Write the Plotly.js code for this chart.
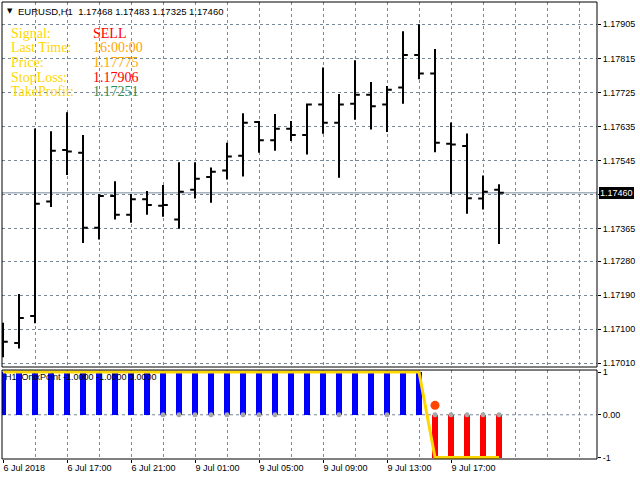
<!DOCTYPE html>
<html>
<head>
<meta charset="utf-8">
<script src="https://cdn.plot.ly/plotly-3.0.1.min.js"></script>
<style>
  html, body { margin: 0; padding: 0; background: #fff; }
  #chart { width: 640px; height: 480px; }
</style>
</head>
<body>
<div id="chart"></div>
<script>
// EURUSD H1, 6 Jul 13:00 .. 9 Jul 20:00 (weekend gap skipped)
var symbol = 'EURUSD,H1';
var opens  = [1.17100, 1.17064, 1.17135, 1.17437, 1.17573, 1.17566, 1.17368, 1.17452,
              1.17402, 1.17443, 1.17426, 1.17390, 1.17468, 1.17502, 1.17519, 1.17558,
              1.17647, 1.17599, 1.17629, 1.17613, 1.17693, 1.17645, 1.17695, 1.17719,
              1.17693, 1.17738, 1.17824, 1.17775, 1.17590, 1.17584, 1.17445, 1.17468];
var highs  = [1.17117, 1.17193, 1.17630, 1.17623, 1.17673, 1.17613, 1.17457, 1.17491,
              1.17457, 1.17465, 1.17481, 1.17541, 1.17541, 1.17527, 1.17592, 1.17670,
              1.17650, 1.17668, 1.17650, 1.17696, 1.17791, 1.17721, 1.17810, 1.17753,
              1.17742, 1.17887, 1.17905, 1.17840, 1.17646, 1.17617, 1.17506, 1.17483];
var lows   = [1.17026, 1.17049, 1.17116, 1.17423, 1.17507, 1.17328, 1.17337, 1.17390,
              1.17381, 1.17402, 1.17397, 1.17365, 1.17445, 1.17434, 1.17495, 1.17503,
              1.17566, 1.17571, 1.17597, 1.17561, 1.17616, 1.17500, 1.17653, 1.17627,
              1.17621, 1.17695, 1.17760, 1.17567, 1.17457, 1.17405, 1.17416, 1.17325];
var closes = [1.17067, 1.17130, 1.17431, 1.17571, 1.17569, 1.17368, 1.17452, 1.17402,
              1.17443, 1.17428, 1.17428, 1.17463, 1.17497, 1.17516, 1.17556, 1.17645,
              1.17599, 1.17629, 1.17613, 1.17693, 1.17645, 1.17693, 1.17719, 1.17689,
              1.17732, 1.17824, 1.17775, 1.17592, 1.17588, 1.17446, 1.17463, 1.17460];
var bid = 1.17460;

// OnixPoint indicator window
var histValues = [1, 1, 1, 1, 1, 1, 1, 1, 1, 1, 1, 1, 1, 1, 1, 1,
                  1, 1, 1, 1, 1, 1, 1, 1, 1, 1, 1, -1, -1, -1, -1, -1];
var trendLine  = [1, 1, 1, 1, 1, 1, 1, 1, 1, 1, 1, 1, 1, 1, 1, 1,
                  1, 1, 1, 1, 1, 1, 1, 1, 1, 1, 1, -1, -1, -1, -1, -1];
var dotBars = [10, 11, 12, 13, 14, 15, 16, 17, 21, 24, 27, 28, 29, 30, 31];
var signalBars = [27];
var signalValues = [0.22];

// axis labels
var priceTicks = [1.17905, 1.17815, 1.17725, 1.17635, 1.17545, 1.17455, 1.17365, 1.17280, 1.17190, 1.17100, 1.17010];
var priceLabels = ['1.17905', '1.17815', '1.17725', '1.17635', '1.17545', '', '1.17365', '1.17280', '1.17190', '1.17100', '1.17010'];
var timeTickBars = [0, 4, 8, 12, 16, 20, 24, 28];
var timeTickText = ['6 Jul 2018', '6 Jul 17:00', '6 Jul 21:00', '9 Jul 01:00', '9 Jul 05:00', '9 Jul 09:00', '9 Jul 13:00', '9 Jul 17:00'];
var gridBars = [2, 6, 10, 14, 18, 22, 26, 30, 32, 34, 36];

var infoLabels = ['Signal:', 'Last Time:', 'Price:', 'StopLoss:', 'TakeProfit:'];
var infoValues = ['SELL', '16:00:00', '1.17775', '1.17906', '1.17251'];
var infoColors = ['#ff0000', '#ffa500', '#ffa500', '#ff0000', '#2e8b57'];

var bars = opens.map(function (v, i) { return i; });
var gridColor = '#778899';

var ohlc = {
  type: 'ohlc',
  x: bars, open: opens, high: highs, low: lows, close: closes,
  xaxis: 'x', yaxis: 'y',
  increasing: {line: {color: '#000000', width: 2}},
  decreasing: {line: {color: '#000000', width: 2}},
  tickwidth: 0.3,
  hoverinfo: 'skip'
};

var hist = {
  type: 'bar',
  x: bars, y: histValues,
  xaxis: 'x', yaxis: 'y2',
  width: 0.42,
  marker: {color: histValues.map(function (v) { return v > 0 ? '#0000ff' : '#ff0000'; }), line: {width: 0}},
  hoverinfo: 'skip'
};

var line = {
  type: 'scatter', mode: 'lines',
  x: bars, y: trendLine,
  xaxis: 'x', yaxis: 'y2',
  line: {color: '#ffd700', width: 3},
  hoverinfo: 'skip'
};

var dots = {
  type: 'scatter', mode: 'markers',
  x: dotBars, y: dotBars.map(function () { return 0; }),
  xaxis: 'x', yaxis: 'y2',
  marker: {color: '#a9a9a9', size: 5},
  hoverinfo: 'skip'
};

var signal = {
  type: 'scatter', mode: 'markers',
  x: signalBars, y: signalValues,
  xaxis: 'x', yaxis: 'y2',
  marker: {color: '#ff4500', size: 9},
  hoverinfo: 'skip'
};

// text placed in pixels from the plot's top-left corner
function textAt(text, px, py, font, extra) {
  var a = {
    xref: 'paper', yref: 'paper', x: 0, y: 1,
    xshift: px - 2, yshift: -(py - 2),
    xanchor: 'left', yanchor: 'middle',
    showarrow: false, text: text, font: font
  };
  for (var k in extra) a[k] = extra[k];
  return a;
}

var small = {family: 'Liberation Sans, Arial, sans-serif', size: 9, color: '#000000'};
var serif = 'Liberation Serif, Times New Roman, serif';
var last = closes.length - 1;
var annotations = [
  textAt('\u25BC', 4.5, 11, {family: 'DejaVu Sans', size: 7, color: '#000000'}),
  textAt(symbol + '&nbsp;&nbsp;' + [opens[last], highs[last], lows[last], closes[last]].map(function (v) { return v.toFixed(5); }).join(' '),
         16, 11, {family: 'Liberation Sans, Arial, sans-serif', size: 9.5, color: '#000000'}),
  textAt('H1&nbsp;&nbsp;OnixPoint ' + [histValues[last], trendLine[last], 0].map(function (v) { return v.toFixed(4); }).join(' '), 3, 377, small),
  {
    xref: 'paper', yref: 'y', x: 1, y: bid, xshift: 2, xanchor: 'left', yanchor: 'middle',
    showarrow: false, text: bid.toFixed(5), bgcolor: '#000000', borderpad: 1, borderwidth: 0,
    font: {family: 'Liberation Sans, Arial, sans-serif', size: 9, color: '#ffffff'}
  }
];
infoLabels.forEach(function (lab, i) {
  var yy = 33.3 + i * 14.6;
  annotations.push(textAt(lab, 11, yy, {family: serif, size: 14, color: '#ffd700'}, {borderpad: 0, borderwidth: 0}));
  annotations.push(textAt(infoValues[i], 93, yy, {family: serif, size: 14, color: infoColors[i]}, {borderpad: 0, borderwidth: 0}));
});

var layout = {
  width: 640, height: 480,
  margin: {l: 2, r: 43, t: 2, b: 21, pad: 0},
  paper_bgcolor: '#ffffff', plot_bgcolor: '#ffffff',
  showlegend: false,
  font: small,
  bargap: 0,
  xaxis: {
    anchor: 'y2',
    range: [-0.0625, 37.125],
    rangeslider: {visible: false},
    tickmode: 'array', tickvals: timeTickBars, ticktext: timeTickText,
    ticklabelposition: 'outside right',
    ticks: 'outside', ticklen: 3, tickcolor: '#000000',
    showgrid: true, gridcolor: gridColor, griddash: '3px,3px', gridwidth: 1,
    minor: {tickvals: gridBars, showgrid: true, gridcolor: gridColor, griddash: '3px,3px', gridwidth: 1, ticks: ''},
    zeroline: false, showline: false, fixedrange: true
  },
  yaxis: {
    domain: [0.2013, 1], anchor: 'x', side: 'right',
    range: [1.170003, 1.179639],
    tickmode: 'array', tickvals: priceTicks, ticktext: priceLabels,
    ticks: 'outside', ticklen: 3, tickcolor: '#000000',
    showgrid: true, gridcolor: gridColor, griddash: '3px,3px', gridwidth: 1,
    zeroline: false, showline: false, fixedrange: true
  },
  yaxis2: {
    domain: [0, 0.1947], anchor: 'x', side: 'right',
    range: [-1.035, 1.047],
    tickmode: 'array', tickvals: [1, 0, -1], ticktext: ['1', '0.00', '-1'],
    ticks: 'outside', ticklen: 3, tickcolor: '#000000',
    showgrid: false, zeroline: false, showline: false, fixedrange: true
  },
  shapes: [
    {type: 'line', xref: 'x domain', yref: 'y', x0: 0, x1: 1, y0: bid, y1: bid, line: {color: gridColor, width: 1}, layer: 'below'},
    {type: 'line', xref: 'x domain', yref: 'y2', x0: 0, x1: 1, y0: 0, y1: 0, line: {color: gridColor, width: 1, dash: '3px,3px'}, layer: 'below'},
    {type: 'rect', xref: 'x domain', yref: 'y domain', x0: 0, x1: 1, y0: 0, y1: 1, line: {color: '#000000', width: 1}},
    {type: 'rect', xref: 'x domain', yref: 'y2 domain', x0: 0, x1: 1, y0: 0, y1: 1, line: {color: '#000000', width: 1}}
  ],
  annotations: annotations
};

Plotly.newPlot('chart', [hist, line, dots, signal, ohlc], layout, {displayModeBar: false, staticPlot: true});
</script>
</body>
</html>
